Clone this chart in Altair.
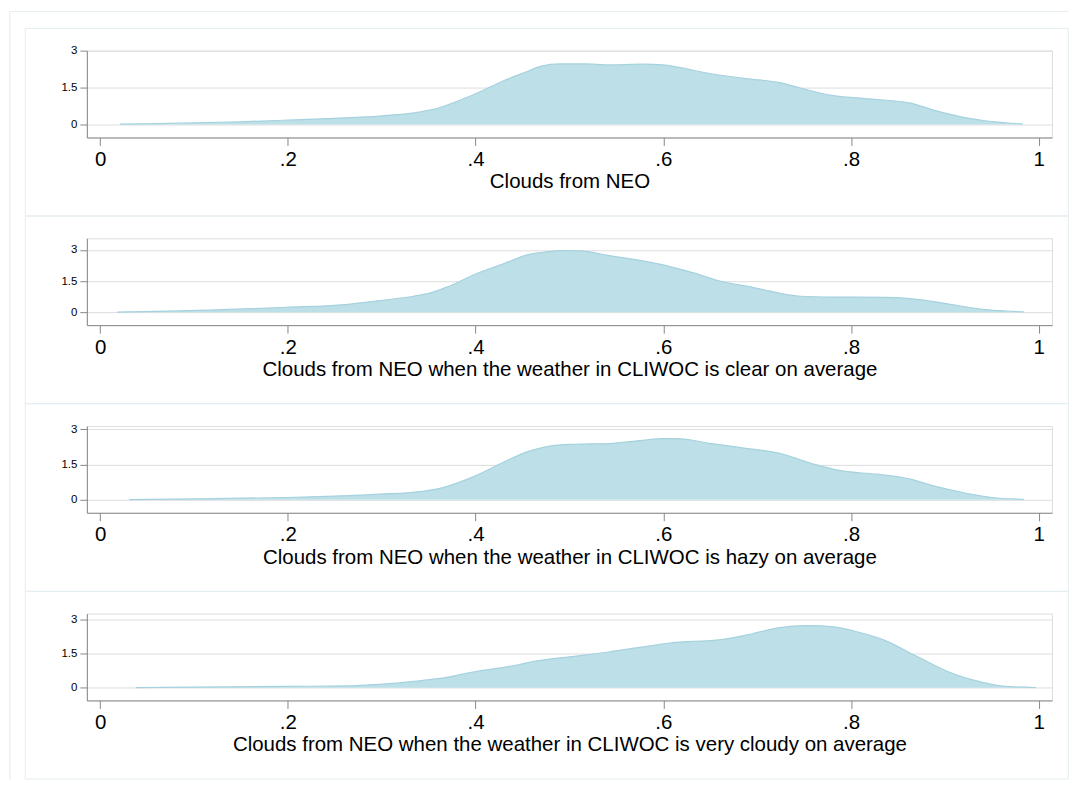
import altair as alt
import pandas as pd

# ---------------- data ----------------
titles = [
    "Clouds from NEO",
    "Clouds from NEO when the weather in CLIWOC is clear on average",
    "Clouds from NEO when the weather in CLIWOC is hazy on average",
    "Clouds from NEO when the weather in CLIWOC is very cloudy on average",
]

x_ticks = [0, 0.2, 0.4, 0.6, 0.8, 1]
y_ticks = [0, 1.5, 3]

x1 = [0.021, 0.06, 0.1, 0.15, 0.199, 0.25, 0.2975, 0.334, 0.356, 0.374, 0.4, 0.433, 0.455, 0.469,
      0.49, 0.516, 0.542, 0.578, 0.6, 0.615, 0.651, 0.688, 0.724, 0.746, 0.779, 0.815, 0.863,
      0.888, 0.917, 0.943, 0.965, 0.983]
y1 = [0.01, 0.03, 0.06, 0.11, 0.175, 0.25, 0.34, 0.47, 0.62, 0.85, 1.25, 1.83, 2.15, 2.36,
      2.46, 2.46, 2.42, 2.45, 2.42, 2.33, 2.06, 1.86, 1.70, 1.48, 1.18, 1.05, 0.87,
      0.58, 0.31, 0.15, 0.07, 0.02]

x2 = [0.018, 0.06, 0.115, 0.16, 0.199, 0.261, 0.2975, 0.334, 0.352, 0.371, 0.4, 0.433, 0.455,
      0.469, 0.49, 0.512, 0.542, 0.578, 0.607, 0.633, 0.658, 0.695, 0.746, 0.779, 0.834, 0.86,
      0.881, 0.907, 0.943, 0.965, 0.984]
y2 = [0.01, 0.04, 0.1, 0.17, 0.24, 0.37, 0.56, 0.77, 0.93, 1.24, 1.84, 2.39, 2.76,
      2.87, 2.97, 2.95, 2.73, 2.47, 2.2, 1.88, 1.53, 1.2, 0.77, 0.73, 0.72, 0.67,
      0.56, 0.37, 0.13, 0.06, 0.02]

x3 = [0.031, 0.1, 0.199, 0.25, 0.2975, 0.341, 0.363, 0.4, 0.433, 0.455, 0.469, 0.482, 0.505,
      0.542, 0.578, 0.6, 0.615, 0.651, 0.688, 0.724, 0.761, 0.79, 0.827, 0.863, 0.888, 0.924,
      0.95, 0.984]
y3 = [0.01, 0.04, 0.1, 0.16, 0.24, 0.35, 0.5, 1.02, 1.66, 2.04, 2.2, 2.3, 2.36,
      2.39, 2.53, 2.6, 2.6, 2.39, 2.19, 1.98, 1.51, 1.23, 1.09, 0.88, 0.59, 0.27,
      0.1, 0.02]

x4 = [0.038, 0.1, 0.199, 0.261, 0.2975, 0.334, 0.371, 0.4, 0.433, 0.469, 0.505, 0.542, 0.571,
      0.607, 0.662, 0.695, 0.724, 0.753, 0.782, 0.804, 0.834, 0.87, 0.907, 0.936, 0.962, 0.997]
y4 = [0.01, 0.03, 0.06, 0.08, 0.15, 0.28, 0.47, 0.72, 0.92, 1.21, 1.39, 1.58, 1.76,
      1.98, 2.13, 2.39, 2.66, 2.75, 2.69, 2.50, 2.13, 1.39, 0.65, 0.28, 0.07, 0.01]

y_domains = [[-0.53, 3.0], [-0.62, 3.56], [-0.55, 3.14], [-0.56, 3.28]]
x_domain = [-0.0141, 1.0141]

# ---------------- styling ----------------
FONT = "Liberation Sans"
PW, PH = 967, 87
FILL = "#bcdfe8"
EDGE = "#a6d2de"
BOX = "#e4edf0"
AXC = "#222222"

one = pd.DataFrame({"k": [0]})


def panel(xs, ys, title, ydom, first=False):
    df = pd.DataFrame({"x": xs, "y": ys})
    area = alt.Chart(df).mark_area(
        color=FILL, opacity=1, interpolate="monotone",
        line={"color": EDGE, "strokeWidth": 1.2},
    ).encode(
        x=alt.X("x:Q", title=title,
                scale=alt.Scale(domain=x_domain, nice=False, zero=False),
                axis=alt.Axis(values=x_ticks, grid=False, tickSize=8, labelPadding=4,
                              labelFontSize=20.5, titleFontSize=20.5, titlePadding=2,
                              titleFontWeight="normal", labelFlush=False,
                              labelExpr="datum.value == 0 ? '0' : (datum.value == 1 ? '1' : '.' + toString(round(datum.value * 10)))")),
        y=alt.Y("y:Q", title=None,
                scale=alt.Scale(domain=ydom, nice=False, zero=False),
                axis=alt.Axis(values=y_ticks, grid=True, tickSize=7, labelPadding=3,
                              labelFontSize=11.5, labelExpr="toString(datum.value)")),
        y2=alt.datum(0),
    )
    box = alt.Chart(one).mark_rect(fill="white", fillOpacity=0, stroke=BOX, strokeWidth=1).encode(
        x=alt.value(-61.7), x2=alt.value(983.3), y=alt.value(-22.3), y2=alt.value(165.7)
    )
    layers = [box, area]
    if first:
        top_line = alt.Chart(one).mark_rule(color=BOX, strokeWidth=1).encode(
            x=alt.value(-77.2), x2=alt.value(983.8), y=alt.value(-39.3)
        )
        left_line = alt.Chart(one).mark_rule(color=BOX, strokeWidth=1).encode(
            x=alt.value(-77.2), y=alt.value(-39.3), y2=alt.value(730)
        )
        layers = [top_line, left_line] + layers
    return alt.layer(*layers).properties(width=PW, height=PH)


xs_all = [x1, x2, x3, x4]
ys_all = [y1, y2, y3, y4]
panels = [panel(xs_all[i], ys_all[i], titles[i], y_domains[i], first=(i == 0)) for i in range(4)]

chart = alt.vconcat(*panels, spacing=101, bounds="flush",
                    padding={"left": 0, "top": 1, "right": 0, "bottom": 0}).configure_view(
    stroke=None
).configure_axis(
    domainColor=AXC, domainWidth=1.4, tickColor=AXC, tickWidth=1.3,
    labelColor="black", titleColor="black", labelFont=FONT, titleFont=FONT,
    titleFontWeight="normal", gridColor="#e8f1f3", gridWidth=1.5,
).configure(background="white")

chart.save("out.html", embed_options={"renderer": "svg", "actions": False})
